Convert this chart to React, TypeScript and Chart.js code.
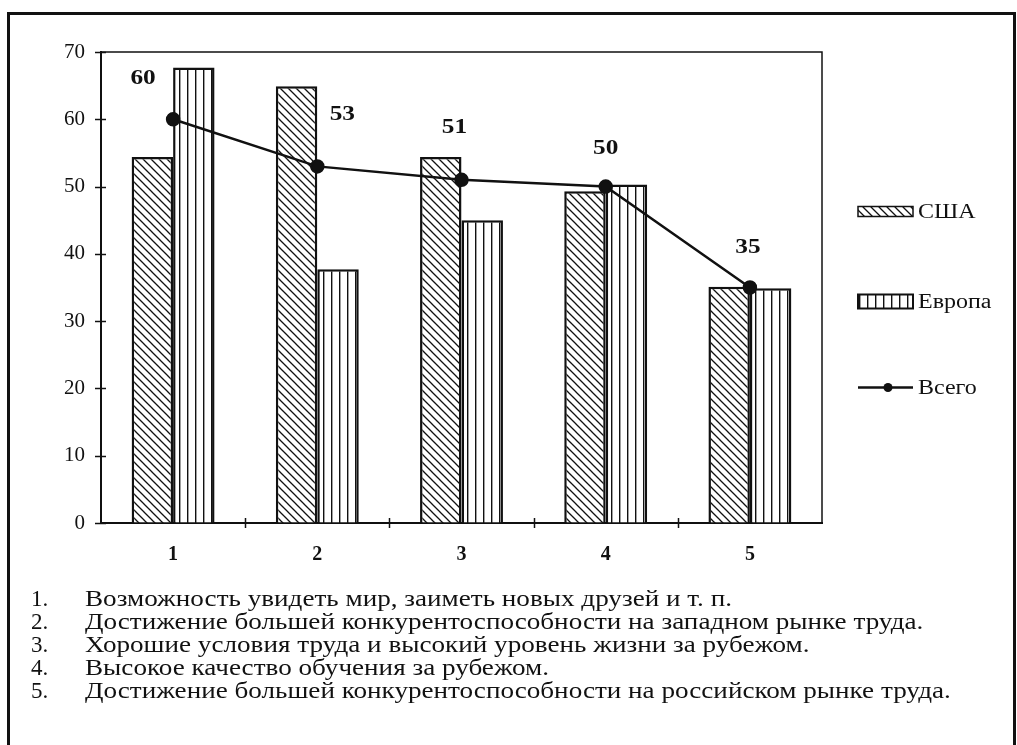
import React, { useEffect, useRef } from 'react';
import { Chart, registerables } from 'chart.js';
Chart.register(...registerables);

const categories = ['1', '2', '3', '4', '5'];
const usaValues = [54.4, 64.9, 54.4, 49.3, 35.1];
const europeValues = [67.7, 37.7, 45.0, 50.3, 34.9];
const totalValues = [60, 53, 51, 50, 35];
const yMin = 0;
const yMax = 70;
const yStep = 10;
const seriesNames = ['США', 'Европа', 'Всего'];
const footnotes = [
  'Возможность увидеть мир, заиметь новых друзей и т. п.',
  'Достижение большей конкурентоспособности на западном рынке труда.',
  'Хорошие условия труда и высокий уровень жизни за рубежом.',
  'Высокое качество обучения за рубежом.',
  'Достижение большей конкурентоспособности на российском рынке труда.',
];
// style: label offsets (dx, dy) from each point of the "Всего" line
const labelOffsets = [
  [-30, -41],
  [25, -52],
  [-7, -53],
  [0, -38],
  [-2, -40],
];

const INK = '#111';
const SERIF = '"Liberation Serif", "Times New Roman", serif';

function diagPattern(ctx: CanvasRenderingContext2D) {
  const s = 8;
  const c = document.createElement('canvas');
  c.width = s;
  c.height = s;
  const g = c.getContext('2d')!;
  g.fillStyle = '#fff';
  g.fillRect(0, 0, s, s);
  g.strokeStyle = INK;
  g.lineWidth = 1.3;
  g.beginPath();
  g.moveTo(-2, -2);
  g.lineTo(s + 2, s + 2);
  g.moveTo(-2, s - 2);
  g.lineTo(2, s + 2);
  g.moveTo(s - 2, -2);
  g.lineTo(s + 2, 2);
  g.stroke();
  return ctx.createPattern(c, 'repeat')!;
}

function vertPattern(ctx: CanvasRenderingContext2D) {
  const w = 8;
  const c = document.createElement('canvas');
  c.width = w;
  c.height = 8;
  const g = c.getContext('2d')!;
  g.fillStyle = '#fff';
  g.fillRect(0, 0, w, 8);
  g.fillStyle = INK;
  g.fillRect(3, 0, 1.4, 8);
  return ctx.createPattern(c, 'repeat')!;
}

function wideText(c: CanvasRenderingContext2D, t: string, x: number, y: number, sx: number) {
  c.save();
  c.translate(x, y);
  c.scale(sx, 1);
  c.fillText(t, 0, 0);
  c.restore();
}

export default function App() {
  const ref = useRef<HTMLCanvasElement | null>(null);

  useEffect(() => {
    document.body.style.margin = '0';
    const canvas = ref.current!;
    const ctx = canvas.getContext('2d')!;
    const pDiag = diagPattern(ctx);
    const pVert = vertPattern(ctx);

    const framePlugin = {
      id: 'framePlugin',
      afterDraw(chart: any) {
        const c = chart.ctx;
        const a = chart.chartArea;
        const xs = chart.scales.x;
        const ys = chart.scales.y;
        c.save();
        c.strokeStyle = INK;
        c.lineWidth = 1.5;
        c.strokeRect(a.left, a.top, a.right - a.left, a.bottom - a.top);
        // y tick marks crossing the axis
        for (let v = yMin; v <= yMax; v += yStep) {
          const y = Math.round(ys.getPixelForValue(v)) + 0.5;
          c.beginPath();
          c.moveTo(a.left - 6, y);
          c.lineTo(a.left + 5, y);
          c.stroke();
        }
        // x tick marks at category boundaries
        for (let i = 0; i < categories.length - 1; i++) {
          const x = Math.round((xs.getPixelForValue(i) + xs.getPixelForValue(i + 1)) / 2) + 0.5;
          c.beginPath();
          c.moveTo(x, a.bottom - 5);
          c.lineTo(x, a.bottom + 5);
          c.stroke();
        }
        // point labels
        const meta = chart.getDatasetMeta(2);
        c.fillStyle = INK;
        c.font = `bold 22px ${SERIF}`;
        c.textAlign = 'center';
        c.textBaseline = 'middle';
        meta.data.forEach((pt: any, i: number) => {
          const [dx, dy] = labelOffsets[i];
          wideText(c, String(totalValues[i]), pt.x + dx, pt.y + dy, 1.15);
        });
        // legend
        const lx = a.right + 36;
        const cy = (a.top + a.bottom) / 2 + 12;
        const rows = [cy - 88, cy + 2, cy + 88];
        c.font = `20px ${SERIF}`;
        c.textAlign = 'left';
        c.lineWidth = 1.5;
        // США
        c.fillStyle = pDiag;
        c.fillRect(lx, rows[0] - 5, 55, 10);
        c.strokeRect(lx, rows[0] - 5, 55, 10);
        // Европа
        c.fillStyle = pVert;
        c.fillRect(lx, rows[1] - 7, 55, 14);
        c.lineWidth = 2;
        c.strokeRect(lx, rows[1] - 7, 55, 14);
        // Всего
        c.lineWidth = 2.5;
        c.beginPath();
        c.moveTo(lx, rows[2]);
        c.lineTo(lx + 55, rows[2]);
        c.stroke();
        c.fillStyle = INK;
        c.beginPath();
        c.arc(lx + 30, rows[2], 4.5, 0, Math.PI * 2);
        c.fill();
        c.fillStyle = INK;
        seriesNames.forEach((n, i) => {
          wideText(c, n, lx + 60, rows[i] + 1, 1.2);
        });
        c.restore();
      },
    };

    const chart = new Chart(ctx, {
      type: 'bar',
      data: {
        labels: categories,
        datasets: [
          {
            type: 'bar',
            label: seriesNames[0],
            data: usaValues,
            backgroundColor: pDiag,
            borderColor: INK,
            borderWidth: 2.5,
            order: 2,
            categoryPercentage: 0.575,
            barPercentage: 1,
          },
          {
            type: 'bar',
            label: seriesNames[1],
            data: europeValues,
            backgroundColor: pVert,
            borderColor: INK,
            borderWidth: 2.5,
            order: 2,
            categoryPercentage: 0.575,
            barPercentage: 1,
          },
          {
            type: 'line',
            label: seriesNames[2],
            data: totalValues,
            borderColor: INK,
            borderWidth: 2.5,
            backgroundColor: INK,
            pointBackgroundColor: INK,
            pointBorderColor: INK,
            pointRadius: 6,
            tension: 0,
            order: 0,
          } as any,
        ],
      },
      options: {
        responsive: false,
        animation: false,
        events: [],
        layout: { padding: { top: 52, right: 195, left: 0, bottom: 0 } },
        plugins: {
          legend: { display: false },
          tooltip: { enabled: false },
          title: { display: false },
        },
        scales: {
          x: {
            type: 'category',
            offset: true,
            grid: { display: false, drawTicks: false },
            border: { display: true, color: INK, width: 2 },
            ticks: {
              color: INK,
              font: { family: SERIF, size: 20, weight: 'bold' },
              padding: 20,
              maxRotation: 0,
            },
            afterFit(s: any) {
              s.height = 57;
            },
          },
          y: {
            min: yMin,
            max: yMax,
            grid: { display: false, drawTicks: false },
            border: { display: true, color: INK, width: 2 },
            ticks: {
              stepSize: yStep,
              color: INK,
              font: { family: SERIF, size: 21 },
              padding: 16,
            },
            afterFit(s: any) {
              s.width = 101;
            },
          },
        },
      },
      plugins: [framePlugin],
    });
    let alive = true;
    if ((document as any).fonts && (document as any).fonts.load) {
      Promise.all([
        (document as any).fonts.load(`20px ${SERIF}`),
        (document as any).fonts.load(`bold 20px ${SERIF}`),
      ])
        .then(() => {
          if (alive) chart.update();
        })
        .catch(() => {});
    }
    return () => {
      alive = false;
      chart.destroy();
    };
  }, []);

  return (
    <div style={{ position: 'relative', width: 1017, height: 745, overflow: 'hidden', background: '#fff' }}>
      <canvas ref={ref} width={1017} height={580} style={{ position: 'absolute', left: 0, top: 0 }} />
      <div
        style={{
          position: 'absolute',
          left: 7,
          top: 12,
          width: 1009,
          height: 800,
          boxSizing: 'border-box',
          border: `3px solid ${INK}`,
          pointerEvents: 'none',
        }}
      />
      <div
        style={{
          position: 'absolute',
          left: 0,
          top: 587,
          fontFamily: SERIF,
          fontSize: 23,
          lineHeight: '23px',
          color: INK,
        }}
      >
        {footnotes.map((t, i) => (
          <div key={i} style={{ position: 'relative', height: 23 }}>
            <span style={{ position: 'absolute', left: 31 }}>{i + 1}.</span>
            <span
              style={{
                position: 'absolute',
                left: 85,
                whiteSpace: 'nowrap',
                transform: 'scaleX(1.18)',
                transformOrigin: 'left center',
              }}
            >
              {t}
            </span>
          </div>
        ))}
      </div>
    </div>
  );
}
